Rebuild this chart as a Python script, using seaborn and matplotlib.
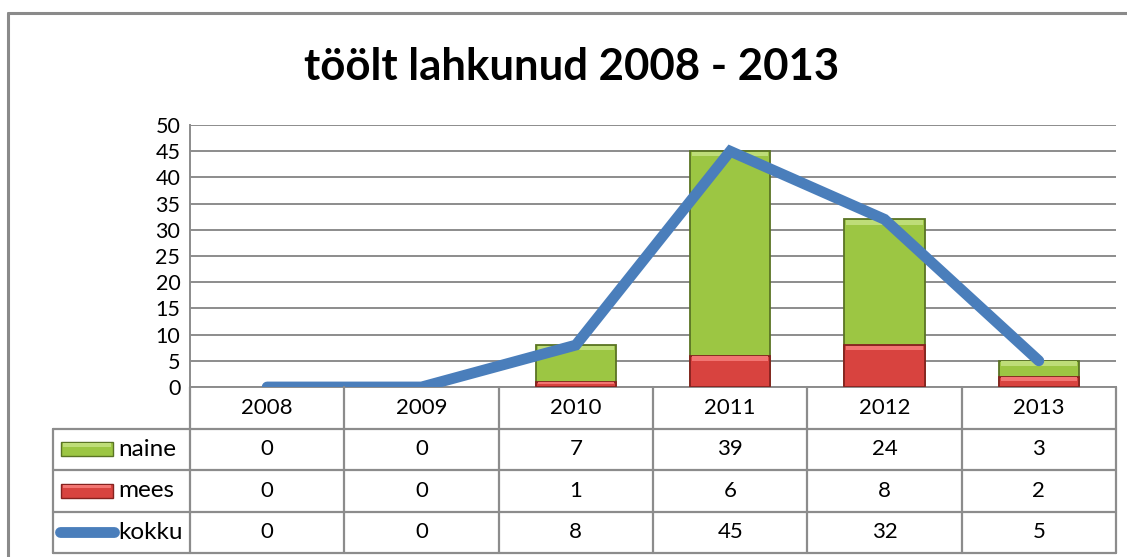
import numpy as np
import matplotlib
matplotlib.use("Agg")
import matplotlib.pyplot as plt
import seaborn as sns
from matplotlib.patches import Rectangle
from matplotlib.lines import Line2D

# Data
years = ['2008', '2009', '2010', '2011', '2012', '2013']
naine = [0, 0, 7, 39, 24, 3]
mees = [0, 0, 1, 6, 8, 2]
kokku = [0, 0, 8, 45, 32, 5]

GREEN = '#9CC643'
GREEN_LIGHT = '#BEDD78'
GREEN_EDGE = '#5A7424'
RED = '#D8433F'
RED_LIGHT = '#F27572'
RED_EDGE = '#85221F'
BLUE = '#4A7EBB'
GRID = '#8C8C8C'

sns.set_style('white')
plt.rcParams['font.family'] = ['Lato', 'DejaVu Sans']
plt.rcParams['text.color'] = 'black'
plt.rcParams['ytick.labelcolor'] = 'black'

W, H = 1127, 557
fig = plt.figure(figsize=(W / 100, H / 100), dpi=100)

def px(x0, y0, x1, y1):
    # pixel box (top-left origin) -> figure fraction rect
    return [x0 / W, 1 - y1 / H, (x1 - x0) / W, (y1 - y0) / H]

# outer chart frame
fig.add_artist(Line2D([8 / W, 8 / W], [0, 1 - 13 / H], color='#8A8A8A', lw=2.2))
fig.add_artist(Line2D([8 / W, 1], [1 - 13 / H, 1 - 13 / H], color='#8A8A8A', lw=2.2))

fig.text(572 / W, 1 - 67 / H, 'töölt lahkunud 2008 - 2013', ha='center', va='center',
         fontsize=31.5, fontweight='bold')

# main plot area
ax = fig.add_axes(px(190, 125, 1116, 387))
total = [n + m for n, m in zip(naine, mees)]
sns.barplot(x=years, y=total, color=GREEN, edgecolor=GREEN_EDGE, linewidth=1.3,
            width=0.52, saturation=1, ax=ax, zorder=2)
n_green = len(ax.patches)
sns.barplot(x=years, y=mees, color=RED, edgecolor=RED_EDGE, linewidth=1.3,
            width=0.52, saturation=1, ax=ax, zorder=3)

# simple bevel look: lighter strip along the top of each bar segment
for k, p in enumerate(list(ax.patches)):
    h = p.get_height()
    if h == 0:
        p.set_visible(False)
        continue
    light = GREEN_LIGHT if k < n_green else RED_LIGHT
    strip = min(0.9, h * 0.35)
    ax.add_patch(Rectangle((p.get_x() + 0.012, p.get_y() + h - strip - 0.1),
                           p.get_width() - 0.024, strip, facecolor=light,
                           edgecolor='none', zorder=p.get_zorder() + 0.1))

sns.lineplot(x=np.arange(len(years)), y=kokku, color=BLUE, linewidth=7.8,
             solid_capstyle='round', solid_joinstyle='miter', ax=ax, zorder=4)

ax.set_xlim(-0.5, len(years) - 0.5)
ax.set_ylim(0, 50)
ax.set_yticks(range(0, 51, 5))
ax.yaxis.grid(True, color=GRID, lw=1.4)
ax.set_axisbelow(True)
ax.set_xticks([])
ax.set_xlabel('')
ax.set_ylabel('')
ax.tick_params(axis='y', length=4, color=GRID, width=1.2, labelsize=15.5, pad=3,
               labelcolor='black')
for s in ['top', 'right']:
    ax.spines[s].set_visible(False)
for s in ['left', 'bottom']:
    ax.spines[s].set_color(GRID)
    ax.spines[s].set_linewidth(1.4)

# data table under the plot
tab = fig.add_axes(px(53, 387, 1116, 553))
left = -0.5 - 137 / 154.3
tab.set_xlim(left, len(years) - 0.5)
tab.set_ylim(0, 4)
tab.axis('off')

lk = dict(color=GRID, lw=1.6, clip_on=False)
for y in [0, 1, 2, 3]:
    tab.plot([left, len(years) - 0.5], [y, y], **lk)
tab.plot([left, left], [0, 3], **lk)
for i in range(len(years) + 1):
    tab.plot([i - 0.5, i - 0.5], [0, 4], **lk)

fs = 16
for i, yr in enumerate(years):
    tab.text(i, 3.5, yr, ha='center', va='center', fontsize=fs)
rows = [('naine', naine, 2.5), ('mees', mees, 1.5), ('kokku', kokku, 0.5)]
for name, vals, yc in rows:
    for i, v in enumerate(vals):
        tab.text(i, yc, str(v), ha='center', va='center', fontsize=fs)
    tab.text(left + 65 / 154.3, yc, name, ha='left', va='center', fontsize=17.5)

sw0 = left + 8 / 154.3
sww = 52 / 154.3
sh = 0.34
for yc, fc, lc, ec in [(2.5, GREEN, GREEN_LIGHT, GREEN_EDGE), (1.5, RED, RED_LIGHT, RED_EDGE)]:
    tab.add_patch(Rectangle((sw0, yc - sh / 2), sww, sh, facecolor=fc,
                            edgecolor=ec, lw=1, clip_on=False))
    tab.add_patch(Rectangle((sw0 + 0.01, yc + sh / 2 - 0.11), sww - 0.02, 0.08,
                            facecolor=lc, edgecolor='none', clip_on=False))
tab.plot([left + 7 / 154.3, left + 61 / 154.3], [0.5, 0.5], color=BLUE, lw=7.8,
         solid_capstyle='round', clip_on=False)

fig.savefig('out.png', dpi=100)
